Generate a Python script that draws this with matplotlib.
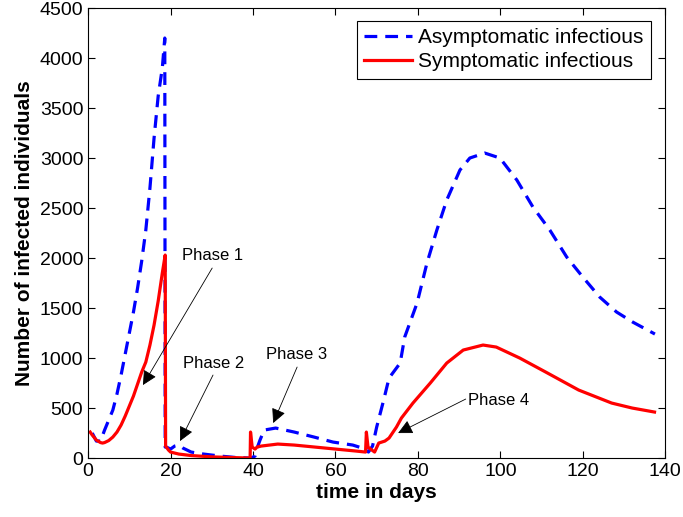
import numpy as np
import matplotlib.pyplot as plt

plt.rcParams['font.family'] = ['Liberation Sans', 'DejaVu Sans']

# asymptomatic infectious (blue dashed)
asym_t = [1, 2, 3, 4, 5, 6, 7, 8, 9, 10, 11, 12, 13, 14, 15, 16, 17, 18, 18.6,
          18.7, 19, 20, 21, 22, 23, 25, 28, 32, 36, 39.5,
          40.5, 41, 41.7, 42.7, 45.5, 50, 54.8, 59.4, 64.2, 66.5, 67.5, 68,
          69, 70, 71.7, 73, 75.7, 76.8, 79.8, 82.2, 84.6, 87, 90.2, 92.6, 96.2,
          99.9, 104, 107.9, 112, 116.1, 120, 124.1, 128.2, 132.1, 137.5]
asym_n = [250, 170, 170, 280, 380, 480, 640, 830, 1040, 1250, 1460, 1700, 1970,
          2280, 2700, 3200, 3620, 3900, 4200,
          110, 110, 90, 120, 130, 100, 60, 40, 20, 5, 0,
          20, 100, 180, 280, 300, 260, 210, 160, 130, 100, 80, 60,
          120, 310, 580, 800, 950, 1210, 1550, 1950, 2280, 2580, 2880, 3000,
          3050, 3000, 2780, 2510, 2280, 2010, 1810, 1610, 1460, 1360, 1240]

# symptomatic infectious (red solid)
sym_t = [0.5, 1, 2, 3, 3.5, 4, 5, 6, 7, 8, 9, 10, 11, 12, 13, 14, 15, 16, 17,
         18, 18.7, 18.8, 19.5, 20, 22, 25, 30, 35, 39.3, 39.4, 39.8, 40.5,
         41, 42, 44, 46, 50, 55, 60, 65, 67.3, 67.5, 67.9, 68.5, 69.5, 70.5,
         72, 73, 74.8, 76, 78.8, 83, 87, 91, 95.8, 99, 104.7, 111, 119, 127,
         132, 137.4]
sym_n = [260, 230, 180, 155, 150, 155, 175, 210, 260, 330, 420, 520, 620, 740,
         860, 960, 1130, 1330, 1570, 1850, 2030, 120, 80, 60, 40, 25, 12, 5, 0,
         260, 110, 90, 110, 120, 130, 140, 130, 110, 90, 70, 60, 260, 110, 90,
         60, 150, 170, 200, 310, 400, 550, 750, 950, 1080, 1130, 1110, 1000,
         860, 680, 550, 500, 460]

# annotations: label, text position (left, centre), arrow tail, arrow tip
phase_lbl = ['Phase 1', 'Phase 2', 'Phase 3', 'Phase 4']
phase_txt = [(22.8, 2030), (23.0, 950), (43.2, 1040), (92.2, 580)]
phase_tail = [(30.1, 1900), (30.3, 830), (50.7, 910), (91.6, 590)]
phase_tip = [(13.3, 730), (22.3, 170), (44.9, 350), (75.2, 250)]

fig = plt.figure(figsize=(6.83, 5.17), dpi=100)
ax = fig.add_axes([0.129, 0.114, 0.845, 0.8705])

ax.plot(asym_t, asym_n, color='#0000ff', ls='--', lw=2.3, dashes=(4, 2.5),
        label='Asymptomatic infectious')
ax.plot(sym_t, sym_n, color='#ff0000', lw=2.3, label='Symptomatic infectious')

for lbl, txt, tail, tip in zip(phase_lbl, phase_txt, phase_tail, phase_tip):
    ax.text(txt[0], txt[1], lbl, fontsize=12, va='center', ha='left')
    ax.annotate('', xy=tip, xytext=tail,
                arrowprops=dict(arrowstyle='-|>', color='black', lw=0.6,
                                mutation_scale=22, shrinkA=0, shrinkB=0))

ax.set_xlim(0, 140)
ax.set_ylim(0, 4500)
ax.set_xticks(np.arange(0, 141, 20))
ax.set_yticks(np.arange(0, 4501, 500))
ax.tick_params(direction='in', top=True, right=True, labelsize=14, length=5)
ax.set_xlabel('time in days', fontsize=15, fontweight='bold', labelpad=2)
ax.set_ylabel('Number of infected individuals', fontsize=15, fontweight='bold',
              labelpad=4)

leg = ax.legend(loc='upper right', fontsize=15, fancybox=False,
                edgecolor='black', framealpha=1, handlelength=2.3,
                borderaxespad=0.4, handletextpad=0.3, labelspacing=0.25,
                borderpad=0.35, bbox_to_anchor=(0.99, 0.99))
leg.get_frame().set_linewidth(0.8)

fig.savefig('out.png', dpi=100)
